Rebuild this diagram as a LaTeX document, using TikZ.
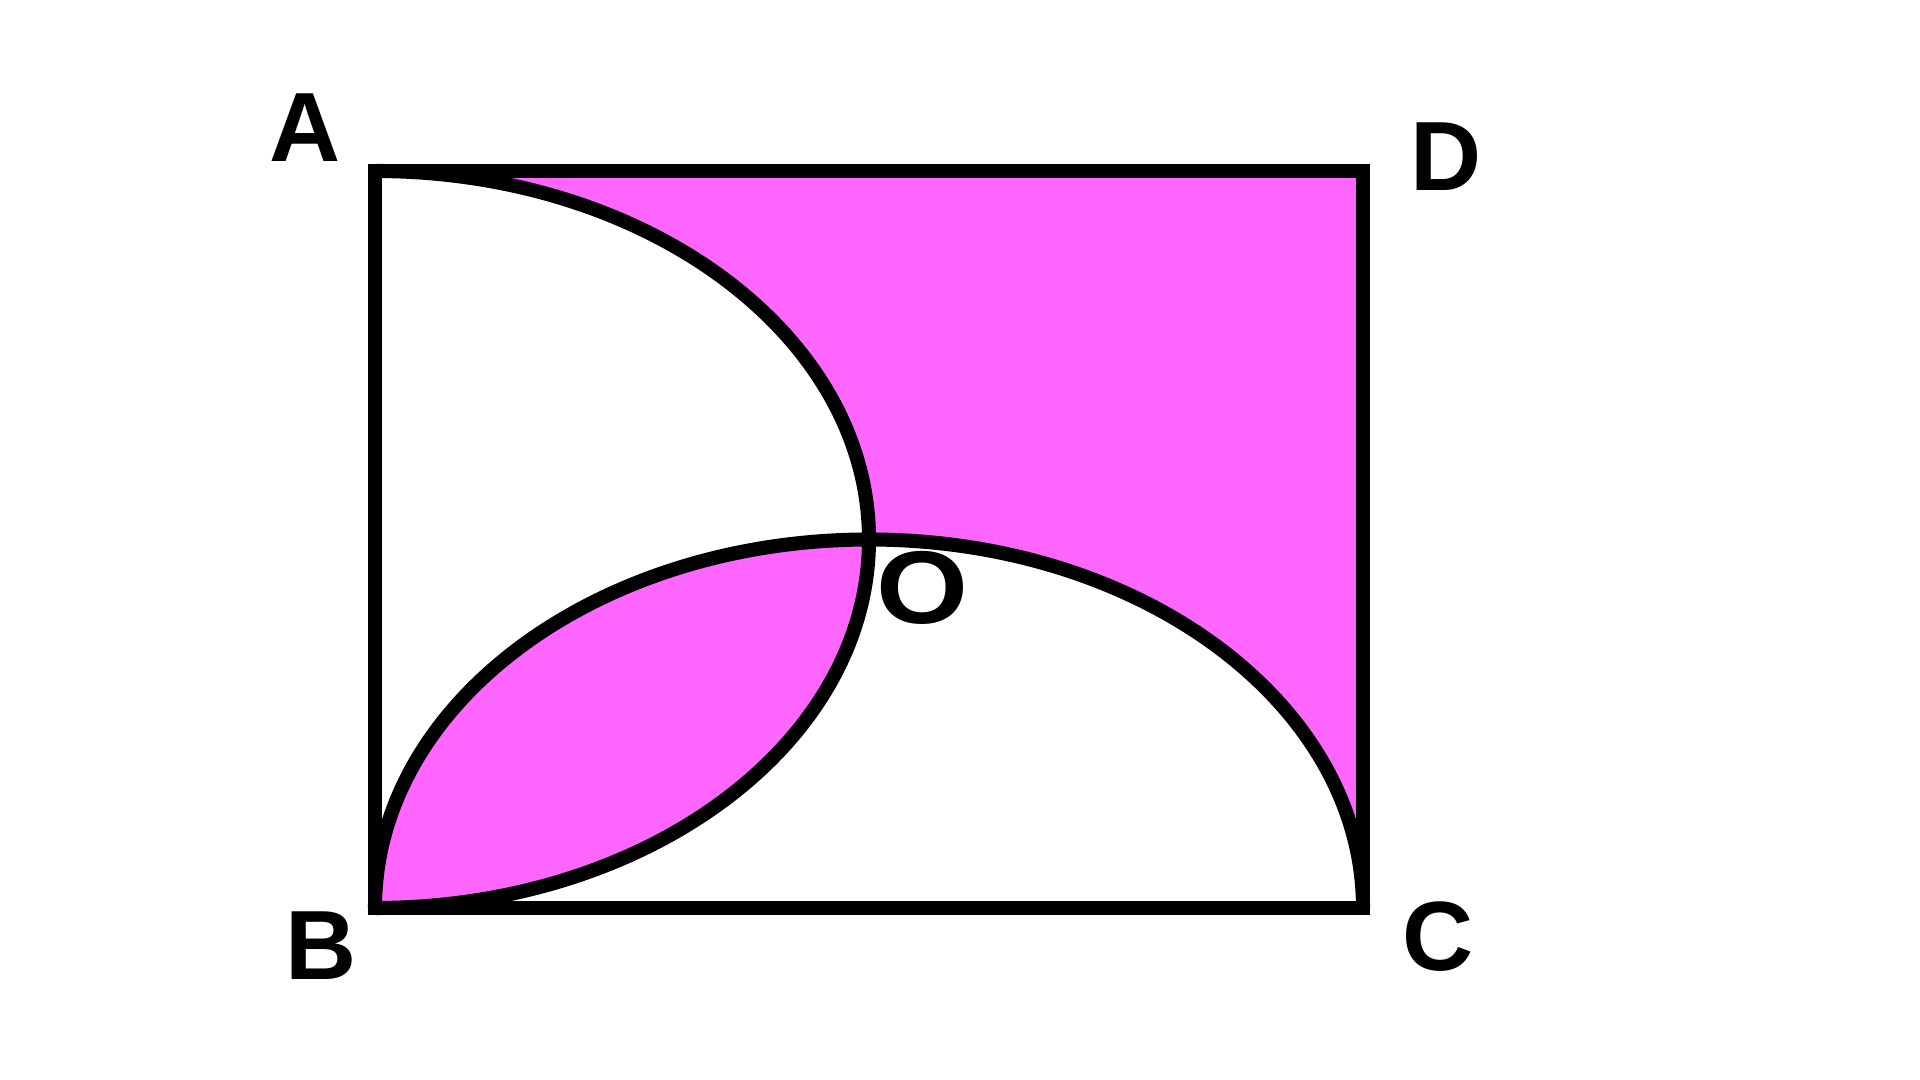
\documentclass[tikz,border=0pt]{standalone}
\usepackage{graphicx}
\usepackage{fontspec}
\setmainfont{Liberation Sans}
\definecolor{pinkfill}{RGB}{255,102,255}
\tikzset{
  edge/.style={line width=4pt, line join=miter, black},
  lbl/.style={font=\fontsize{28}{30}\selectfont\bfseries, inner sep=0pt}
}
\begin{document}
\begin{tikzpicture}[x=0.01cm,y=-0.01cm]
\useasboundingbox (0,0) rectangle (1920,1080);
\coordinate (A) at (375,171);
\coordinate (B) at (375,908);
\coordinate (C) at (1363,908);
\coordinate (D) at (1363,171);
\coordinate (M1) at (375,539.5);
\coordinate (M2) at (869,908);
\begin{scope}
  \clip (A) rectangle (C);
  \fill[fill=pinkfill, even odd rule] (A) rectangle (C)
    (M1) ellipse [x radius=494, y radius=368.5]
    (M2) ellipse [x radius=494, y radius=368.5];
\end{scope}
\draw[edge] (A) arc[start angle=-90, end angle=90, x radius=494, y radius=368.5];
\draw[edge] (B) arc[start angle=180, end angle=360, x radius=494, y radius=368.5];
\draw[edge] (A) -- (D) -- (C) -- (B) -- cycle;
\node[lbl] (la) at (305,128) {A};
\node[lbl] (ld) at (1446,157) {D};
\node[lbl] (lb) at (321,946) {B};
\node[lbl] (lc) at (1438,937) {C};
\node[lbl] (lo) at (922,588) {\scalebox{1.2}[1.05]{O}};
\end{tikzpicture}
\end{document}
